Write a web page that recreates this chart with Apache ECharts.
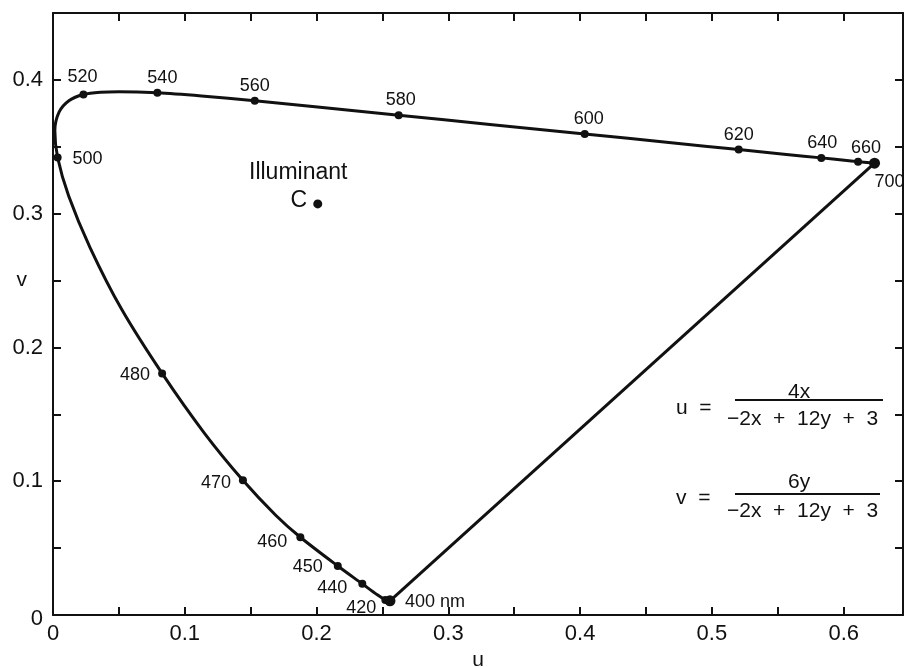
<!DOCTYPE html>
<html>
<head>
<meta charset="utf-8">
<script src="https://cdn.jsdelivr.net/npm/echarts@6/dist/echarts.min.js"></script>
<style>
html, body { margin: 0; background: #fff; }
#chart { width: 904px; height: 667px; }
</style>
</head>
<body>
<div id="chart"></div>
<script>
// CIE 1960 UCS 色度图 (u, v)

// 光谱轨迹, 波长 nm
var locusNm = [400, 410, 420, 430, 440, 450, 460, 465, 470, 475, 480, 485, 490, 495, 500, 505, 510, 515, 520, 525, 530, 540, 550, 560, 570, 580, 590, 600, 610, 620, 630, 640, 650, 660, 680, 700];
var locusU  = [0.2557, 0.2545, 0.2522, 0.2461, 0.2347, 0.2161, 0.1877, 0.1690, 0.1441, 0.1147, 0.0828, 0.0521, 0.0282, 0.0119, 0.0035, 0.0014, 0.0046, 0.0123, 0.0231, 0.0360, 0.0501, 0.0792, 0.1127, 0.1531, 0.2026, 0.2623, 0.3315, 0.4035, 0.4692, 0.5203, 0.5565, 0.5830, 0.6005, 0.6109, 0.6199, 0.6234];
var locusV  = [0.0106, 0.0106, 0.0113, 0.0151, 0.0233, 0.0366, 0.0581, 0.0746, 0.1007, 0.1362, 0.1806, 0.2285, 0.2745, 0.3132, 0.3420, 0.3621, 0.3759, 0.3846, 0.3891, 0.3908, 0.3912, 0.3904, 0.3880, 0.3844, 0.3796, 0.3736, 0.3667, 0.3596, 0.3530, 0.3479, 0.3443, 0.3417, 0.3400, 0.3389, 0.3380, 0.3377];

// 标出圆点的波长
var markNm = [400, 420, 440, 450, 460, 470, 480, 500, 520, 540, 560, 580, 600, 620, 640, 660, 700];

// 照明体 C
var illumName = 'C';
var illumU = 0.2009;
var illumV = 0.3073;

var xTickLabels = ['0', '0.1', '0.2', '0.3', '0.4', '0.5', '0.6'];
var yTickLabels = ['0', '0.1', '0.2', '0.3', '0.4'];

// 标签相对于点的偏移 (px)
var labelOffset = {
    400: [45, 1], 420: [-24, 8], 440: [-30, 4], 450: [-30, 1], 460: [-28, 5],
    470: [-27, 3], 480: [-27, 2], 500: [30, 2], 520: [-1, -17], 540: [5, -15],
    560: [0, -15], 580: [2, -15], 600: [4, -15], 620: [0, -15], 640: [1, -15],
    660: [8, -14], 700: [15, 19]
};

var FONT = '"Liberation Sans", Arial, sans-serif';
var INK = '#111';

var locusData = locusU.map(function (u, i) { return [u, locusV[i]]; });
var i400 = locusNm.indexOf(400), i700 = locusNm.indexOf(700);

var markData = markNm.map(function (nm) {
    var i = locusNm.indexOf(nm);
    return {
        name: String(nm),
        value: [locusU[i], locusV[i]],
        symbolSize: (nm === 400 || nm === 700) ? 11 : 8,
        label: { offset: labelOffset[nm] }
    };
});

function xLabel(val) {
    var k = Math.round(val * 100);
    if (k % 10 !== 0) return '';
    return xTickLabels[k / 10] || '';
}
function yLabel(val) {
    var k = Math.round(val * 100);
    if (k === 25) return '{v|v}';
    if (k === 0) return '{z|' + yTickLabels[0] + '}';
    if (k % 10 !== 0) return '';
    return yTickLabels[k / 10] || '';
}

var tick = { show: true, inside: true, length: 8, lineStyle: { color: INK, width: 2 } };
var line = { show: true, onZero: false, lineStyle: { color: INK, width: 2 } };

var myChart = echarts.init(document.getElementById('chart'));

var option = {
    backgroundColor: '#fff',
    animation: false,
    textStyle: { fontFamily: FONT, color: INK },
    grid: { left: 53, right: 1, top: 13, bottom: 52, outerBoundsMode: 'none', containLabel: false },
    xAxis: [{
        type: 'value', min: 0, max: 0.645, interval: 0.05,
        position: 'bottom',
        name: 'u', nameLocation: 'middle', nameGap: 34,
        nameTextStyle: { fontSize: 21, color: INK, fontFamily: FONT },
        axisLine: line, axisTick: tick, splitLine: { show: false },
        axisLabel: { formatter: xLabel, fontSize: 22, color: INK, margin: 8, fontFamily: FONT }
    }, {
        type: 'value', min: 0, max: 0.645, interval: 0.05,
        position: 'top',
        axisLine: line, axisTick: tick, splitLine: { show: false },
        axisLabel: { show: false }
    }],
    yAxis: [{
        type: 'value', min: 0, max: 0.45, interval: 0.05,
        position: 'left',
        axisLine: line, axisTick: tick, splitLine: { show: false },
        axisLabel: {
            formatter: yLabel, fontSize: 22, color: INK, margin: 10, fontFamily: FONT,
            rich: {
                v: { fontSize: 21, color: INK, fontFamily: FONT, padding: [0, 16, 0, 0] },
                z: { fontSize: 22, color: INK, fontFamily: FONT, padding: [8, 0, 0, 0] }
            }
        }
    }, {
        type: 'value', min: 0, max: 0.45, interval: 0.05,
        position: 'right',
        axisLine: line, axisTick: tick, splitLine: { show: false },
        axisLabel: { show: false }
    }],
    series: [{
        type: 'line',
        data: locusData,
        smooth: 0.3,
        symbol: 'none',
        lineStyle: { color: INK, width: 3 },
        z: 2
    }, {
        type: 'line',
        data: [locusData[i700], locusData[i400]],
        symbol: 'none',
        lineStyle: { color: INK, width: 3 },
        z: 2
    }, {
        type: 'scatter',
        data: markData,
        itemStyle: { color: INK, opacity: 1 },
        label: {
            show: true,
            position: 'inside',
            fontSize: 18,
            color: INK,
            textBorderWidth: 0,
            fontFamily: FONT,
            formatter: function (p) { return p.name === '400' ? '400 nm' : p.name; }
        },
        z: 3
    }, {
        type: 'scatter',
        data: [{ name: illumName, value: [illumU, illumV] }],
        symbolSize: 9,
        itemStyle: { color: INK, opacity: 1 },
        label: {
            show: true, position: 'inside', offset: [-19, -3],
            fontSize: 23, color: INK, textBorderWidth: 0, fontFamily: FONT,
            formatter: function (p) { return p.name; }
        },
        z: 3
    }],
    graphic: [
        { type: 'text', left: 249, top: 161, style: { text: 'Illuminant', font: '23px ' + FONT, fill: INK } },
        // u 公式
        { type: 'text', left: 676, top: 398, style: { text: 'u  =', font: '21px ' + FONT, fill: INK } },
        { type: 'text', left: 788, top: 382, style: { text: '4x', font: '21px ' + FONT, fill: INK } },
        { type: 'line', shape: { x1: 735, y1: 400, x2: 883, y2: 400 }, style: { stroke: INK, lineWidth: 2 } },
        { type: 'text', left: 727, top: 409, style: { text: '\u22122x  +  12y  +  3', font: '21px ' + FONT, fill: INK } },
        // v 公式
        { type: 'text', left: 676, top: 488, style: { text: 'v  =', font: '21px ' + FONT, fill: INK } },
        { type: 'text', left: 788, top: 472, style: { text: '6y', font: '21px ' + FONT, fill: INK } },
        { type: 'line', shape: { x1: 735, y1: 494, x2: 880, y2: 494 }, style: { stroke: INK, lineWidth: 2 } },
        { type: 'text', left: 727, top: 501, style: { text: '\u22122x  +  12y  +  3', font: '21px ' + FONT, fill: INK } }
    ]
};

myChart.setOption(option);
</script>
</body>
</html>
